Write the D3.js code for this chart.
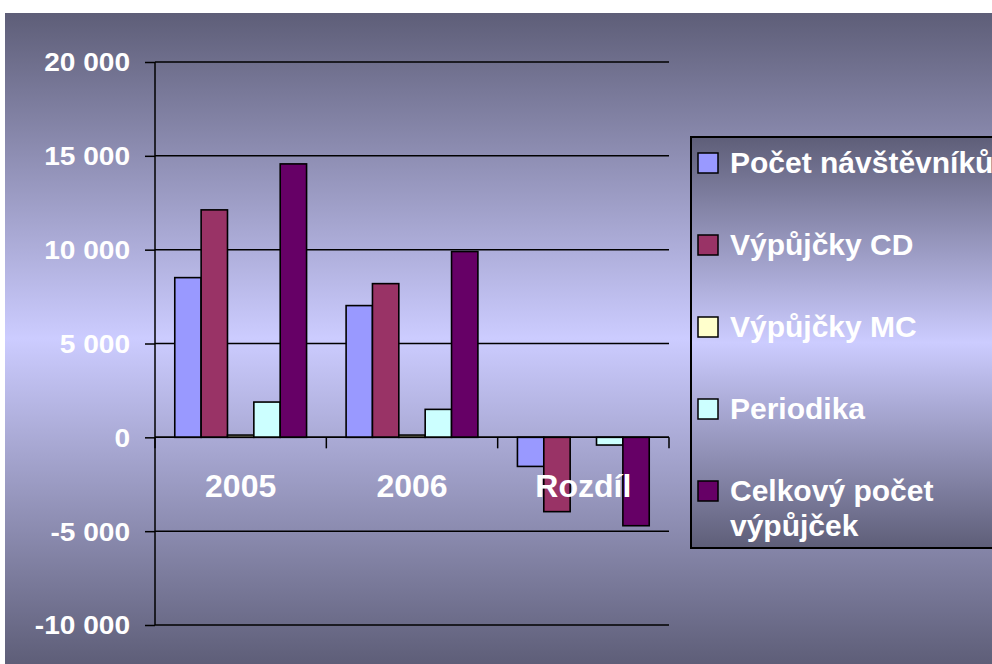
<!DOCTYPE html>
<html>
<head>
<meta charset="utf-8">
<script src="https://cdn.jsdelivr.net/npm/d3@7"></script>
<style>
  body { margin: 0; background: #fff; }
  text { font-family: "Liberation Sans", Arial, sans-serif; font-weight: bold; fill: #fff; }
</style>
</head>
<body>
<div id="chart"></div>
<script>
// data
const categories = ['2005', '2006', 'Rozdíl'];
const seriesNames = ['Počet návštěvníků', 'Výpůjčky CD', 'Výpůjčky MC', 'Periodika', 'Celkový počet výpůjček'];
const values2005 = [8510, 12120, 120, 1880, 14570];
const values2006 = [7020, 8190, 120, 1490, 9900];
const valuesDiff = [-1550, -3960, 0, -410, -4710];
const yTicks = [-10000, -5000, 0, 5000, 10000, 15000, 20000];

const barColors = ['#9999ff', '#993366', '#ffffcc', '#ccffff', '#660066'];

const table = categories.map((c, i) => ({
    group: c,
    series: seriesNames.map((n, j) => ({ name: n, value: [values2005, values2006, valuesDiff][i][j] }))
}));

const W = 992, H = 664;
const svg = d3.select('#chart').append('svg').attr('width', W).attr('height', H);

// background gradients (dark - light - dark)
const defs = svg.append('defs');
const mkGrad = (id) => {
    const g = defs.append('linearGradient').attr('id', id)
        .attr('x1', 0).attr('y1', 0).attr('x2', 0).attr('y2', 1);
    g.append('stop').attr('offset', '0%').attr('stop-color', '#5e5e78');
    g.append('stop').attr('offset', '50%').attr('stop-color', '#ccccff');
    g.append('stop').attr('offset', '100%').attr('stop-color', '#5e5e78');
};
mkGrad('bg');
mkGrad('legbg');

svg.append('rect').attr('x', 5).attr('y', 13).attr('width', W - 5).attr('height', H - 13)
    .attr('fill', 'url(#bg)');

const plot = { left: 155, right: 669, top: 62, bottom: 625 };

const y = d3.scaleLinear().domain([-10000, 20000]).range([plot.bottom, plot.top]);
const x0 = d3.scaleBand().domain(categories).range([plot.left, plot.right]);
const x1 = d3.scaleBand().domain(seriesNames).range([0, x0.bandwidth()]).paddingOuter(0.75);

const fmt = d3.formatLocale({ decimal: ',', thousands: ' ', grouping: [3], currency: ['', ''], minus: '-' }).format(',');

// gridlines
svg.append('g').attr('class', 'grid')
    .selectAll('line').data(yTicks).join('line')
    .attr('x1', plot.left).attr('x2', plot.right)
    .attr('y1', d => y(d)).attr('y2', d => y(d))
    .attr('stroke', '#000').attr('stroke-width', 1.5);

// y axis
const yAxis = svg.append('g').attr('transform', `translate(${plot.left},0)`)
    .call(d3.axisLeft(y).tickValues(yTicks).tickSize(10).tickFormat(''));
yAxis.select('.domain').attr('stroke', '#000').attr('stroke-width', 1.5).attr('d', `M0,${plot.top}V${plot.bottom}`);
yAxis.selectAll('.tick line').attr('stroke', '#000').attr('stroke-width', 1.5);

svg.append('g').selectAll('text').data(yTicks).join('text')
    .attr('transform', d => `translate(130,${y(d)}) scale(1.08,1)`)
    .attr('dy', '0.36em')
    .attr('text-anchor', 'end')
    .style('font-size', '26px')
    .text(d => fmt(d));

// bars
const barGroup = svg.append('g').selectAll('g').data(table).join('g')
    .attr('transform', d => `translate(${x0(d.group)},0)`);
barGroup.selectAll('rect').data(d => d.series).join('rect')
    .attr('x', d => x1(d.name))
    .attr('width', x1.bandwidth())
    .attr('y', d => y(Math.max(0, d.value)))
    .attr('height', d => Math.abs(y(d.value) - y(0)))
    .attr('fill', (d, i) => barColors[i])
    .attr('stroke', '#000').attr('stroke-width', 1.6);

// x axis on zero line
const xAxis = svg.append('g').attr('transform', `translate(0,${y(0)})`);
xAxis.append('line').attr('x1', plot.left).attr('x2', plot.right)
    .attr('stroke', '#000').attr('stroke-width', 1.5);
const bounds = categories.map(c => x0(c)).concat([plot.right]);
xAxis.selectAll('line.tk').data(bounds).join('line').attr('class', 'tk')
    .attr('x1', d => d).attr('x2', d => d).attr('y1', 0).attr('y2', 11)
    .attr('stroke', '#000').attr('stroke-width', 1.5);

svg.append('g').selectAll('text').data(categories).join('text')
    .attr('x', d => x0(d) + x0.bandwidth() / 2)
    .attr('y', 497)
    .attr('text-anchor', 'middle')
    .style('font-size', '32px')
    .text(d => d);

// legend
const legend = svg.append('g');
legend.append('rect').attr('x', 691).attr('y', 137).attr('width', 320).attr('height', 411)
    .attr('fill', 'url(#legbg)').attr('stroke', '#000').attr('stroke-width', 2);

const wrap = (s) => {
    const w = s.split(' ');
    return w.length > 2 ? [w.slice(0, 2).join(' '), w.slice(2).join(' ')] : [s];
};
const item = legend.selectAll('g.item').data(seriesNames).join('g').attr('class', 'item')
    .attr('transform', (d, i) => `translate(0,${163 + i * 82})`);
item.append('rect').attr('x', 698).attr('y', -10).attr('width', 20).attr('height', 20)
    .attr('fill', (d, i) => barColors[i]).attr('stroke', '#000').attr('stroke-width', 1.5);
item.append('text').attr('x', 730).attr('y', 10)
    .style('font-size', '30px')
    .selectAll('tspan').data(d => wrap(d)).join('tspan')
    .attr('x', 730).attr('dy', (d, i) => i === 0 ? 0 : 35)
    .text(d => d);
</script>
</body>
</html>
